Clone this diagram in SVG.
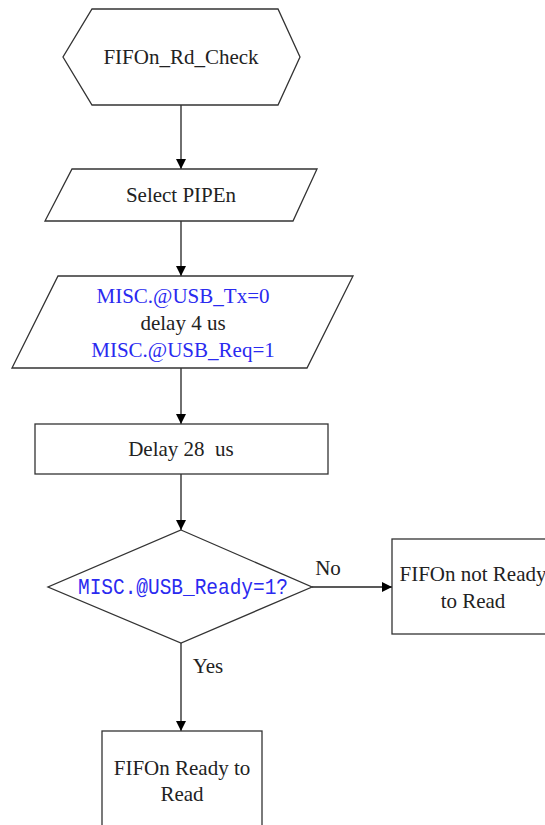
<svg xmlns="http://www.w3.org/2000/svg" width="545" height="825" viewBox="0 0 545 825">
<defs>
<style>
.shape{fill:#fff;stroke:#333;stroke-width:1.3}
.t{font-family:"Liberation Serif","Times New Roman",serif;font-size:21px;fill:#222;text-anchor:middle}
.b{fill:#2a2af0}
.m{font-family:"Liberation Mono","DejaVu Sans Mono",monospace;font-size:22px;fill:#2a2af0}
.c{stroke:#222;stroke-width:1.3;fill:none;marker-end:url(#ah)}
</style>
<marker id="ah" markerWidth="10" markerHeight="10" refX="10" refY="5" orient="auto" markerUnits="userSpaceOnUse" viewBox="0 0 10 10">
<path d="M0,0 L10,5 L0,10 Z" fill="#000"/>
</marker>
</defs>
<rect width="545" height="825" fill="#fff"/>
<g id="connectors">
<line class="c" x1="181" y1="105" x2="181" y2="169"/>
<line class="c" x1="181" y1="221" x2="181" y2="276"/>
<line class="c" x1="181" y1="368" x2="181" y2="424"/>
<line class="c" x1="181" y1="474" x2="181" y2="530"/>
<line class="c" x1="312" y1="587" x2="392" y2="587"/>
<line class="c" x1="181" y1="643" x2="181" y2="731"/>
<text class="t" x="328" y="575">No</text>
<text class="t" x="208" y="673">Yes</text>
</g>
<g id="start">
<polygon class="shape" points="92,9 278,9 300,57 278,105 92,105 63,57"/>
<text class="t" x="181" y="64">FIFOn_Rd_Check</text>
</g>
<g id="select">
<polygon class="shape" points="72,169 317,169 293,221 45,221"/>
<text class="t" x="181" y="202">Select PIPEn</text>
</g>
<g id="misc">
<polygon class="shape" points="58,276 353,276 307,368 12,368"/>
<text class="t b" x="183" y="303">MISC.@USB_Tx=0</text>
<text class="t" x="183" y="330">delay 4 us</text>
<text class="t b" x="183" y="357">MISC.@USB_Req=1</text>
</g>
<g id="delay">
<rect class="shape" x="35" y="424" width="293" height="50"/>
<text class="t" x="181" y="456" xml:space="preserve">Delay 28  us</text>
</g>
<g id="decision">
<polygon class="shape" points="181,530 312,587 181,643 48,587"/>
<text class="m" x="78" y="594" textLength="210" lengthAdjust="spacingAndGlyphs">MISC.@USB_Ready=1?</text>
</g>
<g id="notready">
<rect class="shape" x="392" y="539" width="162" height="95"/>
<text class="t" x="473" y="581">FIFOn not Ready</text>
<text class="t" x="473" y="608">to Read</text>
</g>
<g id="ready">
<rect class="shape" x="102" y="731" width="160" height="110"/>
<text class="t" x="182" y="775">FIFOn Ready to</text>
<text class="t" x="182" y="801">Read</text>
</g>
</svg>
